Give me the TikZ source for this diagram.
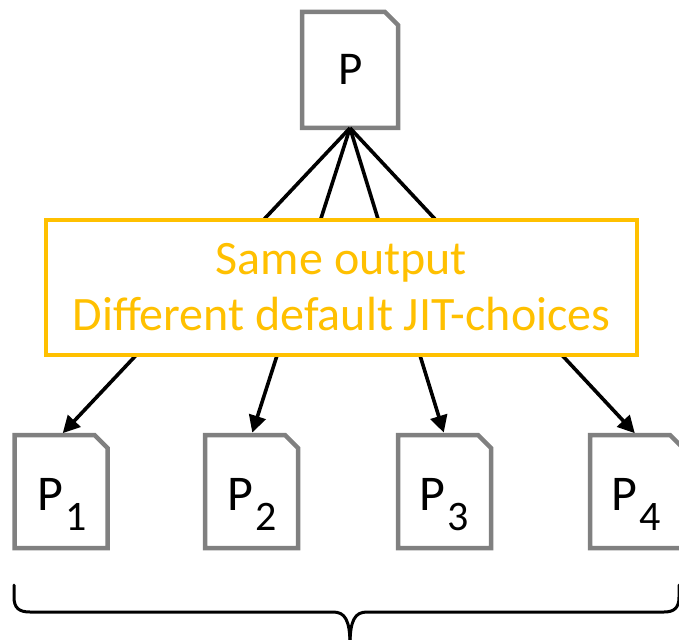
\documentclass[tikz,border=0pt]{standalone}
\usepackage{fontspec}
\setmainfont{Carlito}
\usetikzlibrary{arrows.meta}
\definecolor{docgray}{HTML}{808080}
\definecolor{jitorange}{HTML}{FFC000}
\tikzset{
  doc/.style={inner sep=0pt, outer sep=0pt, minimum width=93pt, minimum height=113pt},
  topdoc/.style={doc, minimum width=96pt, minimum height=116pt},
  docline/.style={draw=docgray, line width=4.5pt, line join=miter},
  doclabel/.style={anchor=base, inner sep=0pt, font=\fontsize{50}{50}\selectfont},
  fan/.style={line width=3.6pt, -{Triangle[length=17pt,width=17pt]}, shorten >=2.5pt},
  note/.style={draw=jitorange, line width=3.8pt, fill=white, text=jitorange,
    minimum width=591pt, minimum height=135pt, inner sep=0pt, align=center,
    font=\fontsize{48}{56}\selectfont},
  brace/.style={line width=3pt, line cap=round}
}
% dog-eared page outline around a named node
\newcommand\docoutline[1]{%
  \draw[docline] (#1.south west) -- (#1.north west)
    -- ([xshift=-13pt]#1.north east) -- ([yshift=-13pt]#1.north east)
    -- (#1.south east) -- cycle;}
\newcommand\sublabel[1]{P\kern2pt\raisebox{-20pt}{\fontsize{42}{42}\selectfont #1}}
\begin{document}
\begin{tikzpicture}[x=1pt, y=-1pt]
  \clip (0,0) rectangle (679,639);
  \fill[white] (0,0) rectangle (679,639);

  % program and its four variants
  \node[topdoc] (P) at (350,70) {};
  \node[doc] (P1) at (61,491.5) {};
  \node[doc] (P2) at (251.5,491.5) {};
  \node[doc] (P3) at (444.5,491.5) {};
  \node[doc] (P4) at (636.5,491.5) {};

  \foreach \n in {P,P1,P2,P3,P4} {\docoutline{\n}}

  \node[doclabel, font=\fontsize{47}{47}\selectfont] (lP) at (351,85) {P};
  \node[doclabel] (l1) at (62,510) {\sublabel{1}};
  \node[doclabel] (l2) at (252,510) {\sublabel{2}};
  \node[doclabel] (l3) at (444,510) {\sublabel{3}};
  \node[doclabel] (l4) at (636,510) {\sublabel{4}};

  % fan-out arrows, passing behind the note
  \foreach \n in {P1,P2,P3,P4} {\draw[fan] (P.south) -- (\n.north);}

  \node[note] (N) at (341.5,287.5) {Same output\\Different default JIT-choices};

  % brace under the variants
  \coordinate (bl) at (14,585);
  \coordinate (br) at (679,585);
  \coordinate (bt) at (350,645);
  \draw[brace] (bl) -- (14,597) .. controls (14,608) and (19,612) .. (30,612)
    -- (333,612) .. controls (345,612) and (350,620) .. (bt);
  \draw[brace] (br) -- (679,597) .. controls (679,608) and (674,612) .. (664,612)
    -- (367,612) .. controls (355,612) and (350,620) .. (bt);
\end{tikzpicture}
\end{document}
